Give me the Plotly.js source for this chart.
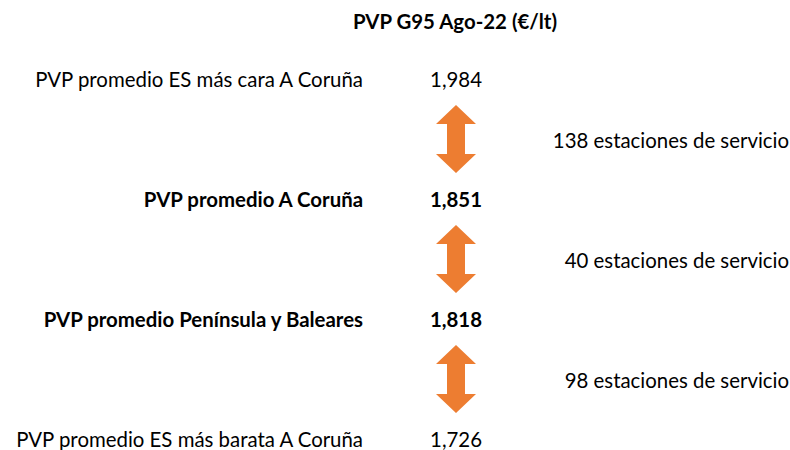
<!DOCTYPE html>
<html><head><meta charset="utf-8">
<script src="https://cdn.plot.ly/plotly-3.0.1.min.js"></script>
<style>html,body{margin:0;padding:0;background:#fff}#chart{width:790px;height:450px}</style>
</head><body><div id="chart"></div>
<script>
// ---- data ----
const titleText = "PVP G95 Ago-22 (€/lt)";
const rowLabels = [
  "PVP promedio ES más cara A Coruña",
  "PVP promedio A Coruña",
  "PVP promedio Península y Baleares",
  "PVP promedio ES más barata A Coruña"
];
const prices = [1.984, 1.851, 1.818, 1.726];
const boldRows = [false, true, true, false];
const stationCounts = [138, 40, 98];
const stationSuffix = " estaciones de servicio";

// ---- layout constants (pixels) ----
const W = 790, H = 450;
const rowPx0 = 82, rowStep = 120;
const labelRightX = 363, valueRightX = 482, arrowX = 456, stationRightX = 789;
const FONT = "Lato, 'Open Sans', sans-serif";
const fs = 20.4;

const rows = rowLabels.map((_, i) => i);
const fmt = v => v.toFixed(3).replace(".", ",");
const wrap = (s, b) => b ? "<b>" + s + "</b>" : s;

const traces = [];
traces.push({
  type: "scatter", mode: "text", x: rows.map(() => labelRightX), y: rows,
  text: rowLabels.map((s, i) => wrap(s, boldRows[i])),
  textposition: "middle left", textfont: {family: FONT, size: fs, color: "#000"},
  hoverinfo: "skip", showlegend: false
});
traces.push({
  type: "scatter", mode: "text", x: rows.map(() => valueRightX), y: rows,
  text: prices.map((v, i) => wrap(fmt(v), boldRows[i])),
  textposition: "middle left", textfont: {family: FONT, size: fs, color: "#000"},
  hoverinfo: "skip", showlegend: false
});
const mids = stationCounts.map((_, i) => i + 0.5 + 1 / rowStep);
traces.push({
  type: "scatter", mode: "text", x: mids.map(() => stationRightX), y: mids,
  text: stationCounts.map(n => n + stationSuffix),
  textposition: "middle left", textfont: {family: FONT, size: fs, color: "#000"},
  hoverinfo: "skip", showlegend: false
});
// double arrows between consecutive rows
const topGap = 23 / rowStep, botGap = 29 / rowStep;
const headH = 19, headW = 20, shaftW = 9;
stationCounts.forEach((_, i) => {
  const yT = i + topGap, yB = i + 1 - botGap;
  const hh = headH / rowStep;
  const xs = [arrowX, arrowX + headW, arrowX + shaftW, arrowX + shaftW, arrowX + headW, arrowX,
              arrowX - headW, arrowX - shaftW, arrowX - shaftW, arrowX - headW, arrowX];
  const ys = [yT, yT + hh, yT + hh, yB - hh, yB - hh, yB, yB - hh, yB - hh, yT + hh, yT + hh, yT];
  traces.push({
    type: "scatter", mode: "lines", x: xs, y: ys, fill: "toself",
    fillcolor: "#ED7D31", line: {color: "#ED7D31", width: 0},
    hoverinfo: "skip", showlegend: false
  });
});

const layout = {
  width: W, height: H, margin: {l: 0, r: 0, t: 0, b: 0},
  paper_bgcolor: "#fff", plot_bgcolor: "#fff",
  title: {text: "<b>" + titleText + "</b>", x: 455 / W, xanchor: "center", xref: "paper",
          y: 1 - 22 / H, yanchor: "middle", yref: "paper", font: {family: FONT, size: fs, color: "#000"}},
  xaxis: {range: [0, W], visible: false, fixedrange: true},
  yaxis: {range: [(H - rowPx0) / rowStep, -rowPx0 / rowStep], visible: false, fixedrange: true},
  showlegend: false
};
Plotly.newPlot("chart", traces, layout, {displayModeBar: false, staticPlot: true});
</script></body></html>
